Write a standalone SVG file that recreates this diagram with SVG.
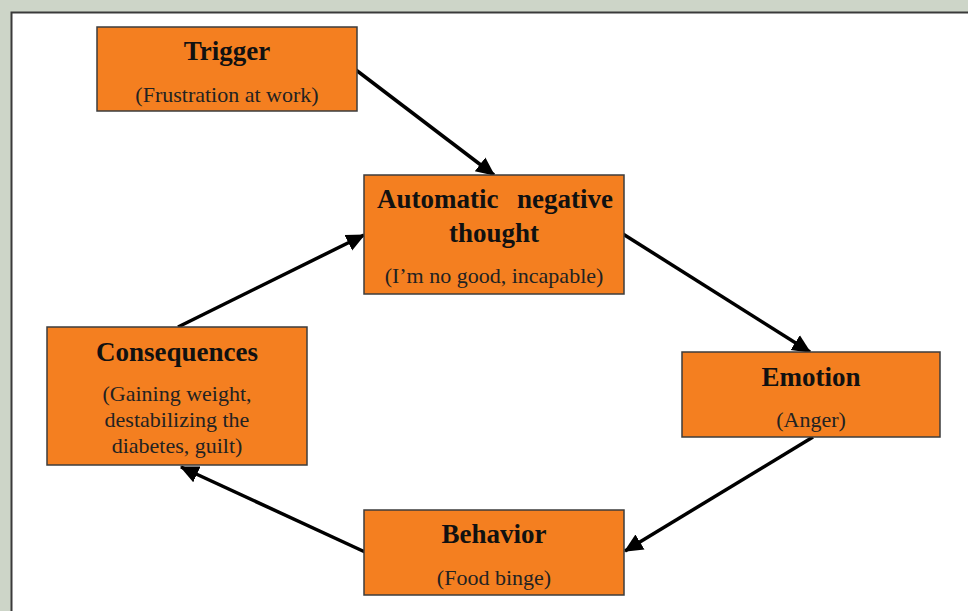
<svg xmlns="http://www.w3.org/2000/svg" width="968" height="611" viewBox="0 0 968 611">
<style>
.box{fill:#f47f20;stroke:#3c3c3c;stroke-width:1.5}
.t{font-family:"Liberation Serif","Times New Roman",serif;font-weight:bold;font-size:27px;fill:#111;text-anchor:middle}
.s{font-family:"Liberation Serif","Times New Roman",serif;font-size:22px;fill:#222;text-anchor:middle}
.c{fill:none;stroke:#000;stroke-width:3.5;marker-end:url(#ah)}
</style>
<defs>
<marker id="ah" markerUnits="userSpaceOnUse" markerWidth="20" markerHeight="20" refX="14" refY="7" orient="auto" viewBox="0 0 16 14">
<path d="M0,0 L15,7 L0,14 z" fill="#000"/>
</marker>
</defs>
<rect x="0" y="0" width="968" height="611" fill="#cdd5c8"/>
<rect x="11.5" y="12.5" width="970" height="610" fill="#fff" stroke="#3a3a3a" stroke-width="2"/>
<g id="connectors">
<line class="c" x1="356" y1="70" x2="494" y2="175"/>
<line class="c" x1="623" y1="234" x2="810" y2="352"/>
<line class="c" x1="813" y1="437" x2="625" y2="551"/>
<line class="c" x1="365" y1="552" x2="181" y2="467"/>
<line class="c" x1="178" y1="327" x2="364" y2="235"/>
</g>
<g id="trigger">
<rect class="box" x="97" y="27" width="260" height="84"/>
<text class="t" x="227" y="60">Trigger</text>
<text class="s" x="227" y="102">(Frustration at work)</text>
</g>
<g id="thought">
<rect class="box" x="364" y="175" width="260" height="119"/>
<text class="t" x="377" y="208" style="text-anchor:start">Automatic</text>
<text class="t" x="613" y="208" style="text-anchor:end">negative</text>
<text class="t" x="494" y="242">thought</text>
<text class="s" x="494" y="283">(I’m no good, incapable)</text>
</g>
<g id="emotion">
<rect class="box" x="682" y="352" width="258" height="85"/>
<text class="t" x="811" y="386">Emotion</text>
<text class="s" x="811" y="427">(Anger)</text>
</g>
<g id="behavior">
<rect class="box" x="364" y="510" width="260" height="85"/>
<text class="t" x="494" y="543">Behavior</text>
<text class="s" x="494" y="585">(Food binge)</text>
</g>
<g id="consequences">
<rect class="box" x="47" y="327" width="260" height="138"/>
<text class="t" x="177" y="361">Consequences</text>
<text class="s" x="177" y="401">(Gaining weight,</text>
<text class="s" x="177" y="427">destabilizing the</text>
<text class="s" x="177" y="453">diabetes, guilt)</text>
</g>
</svg>
